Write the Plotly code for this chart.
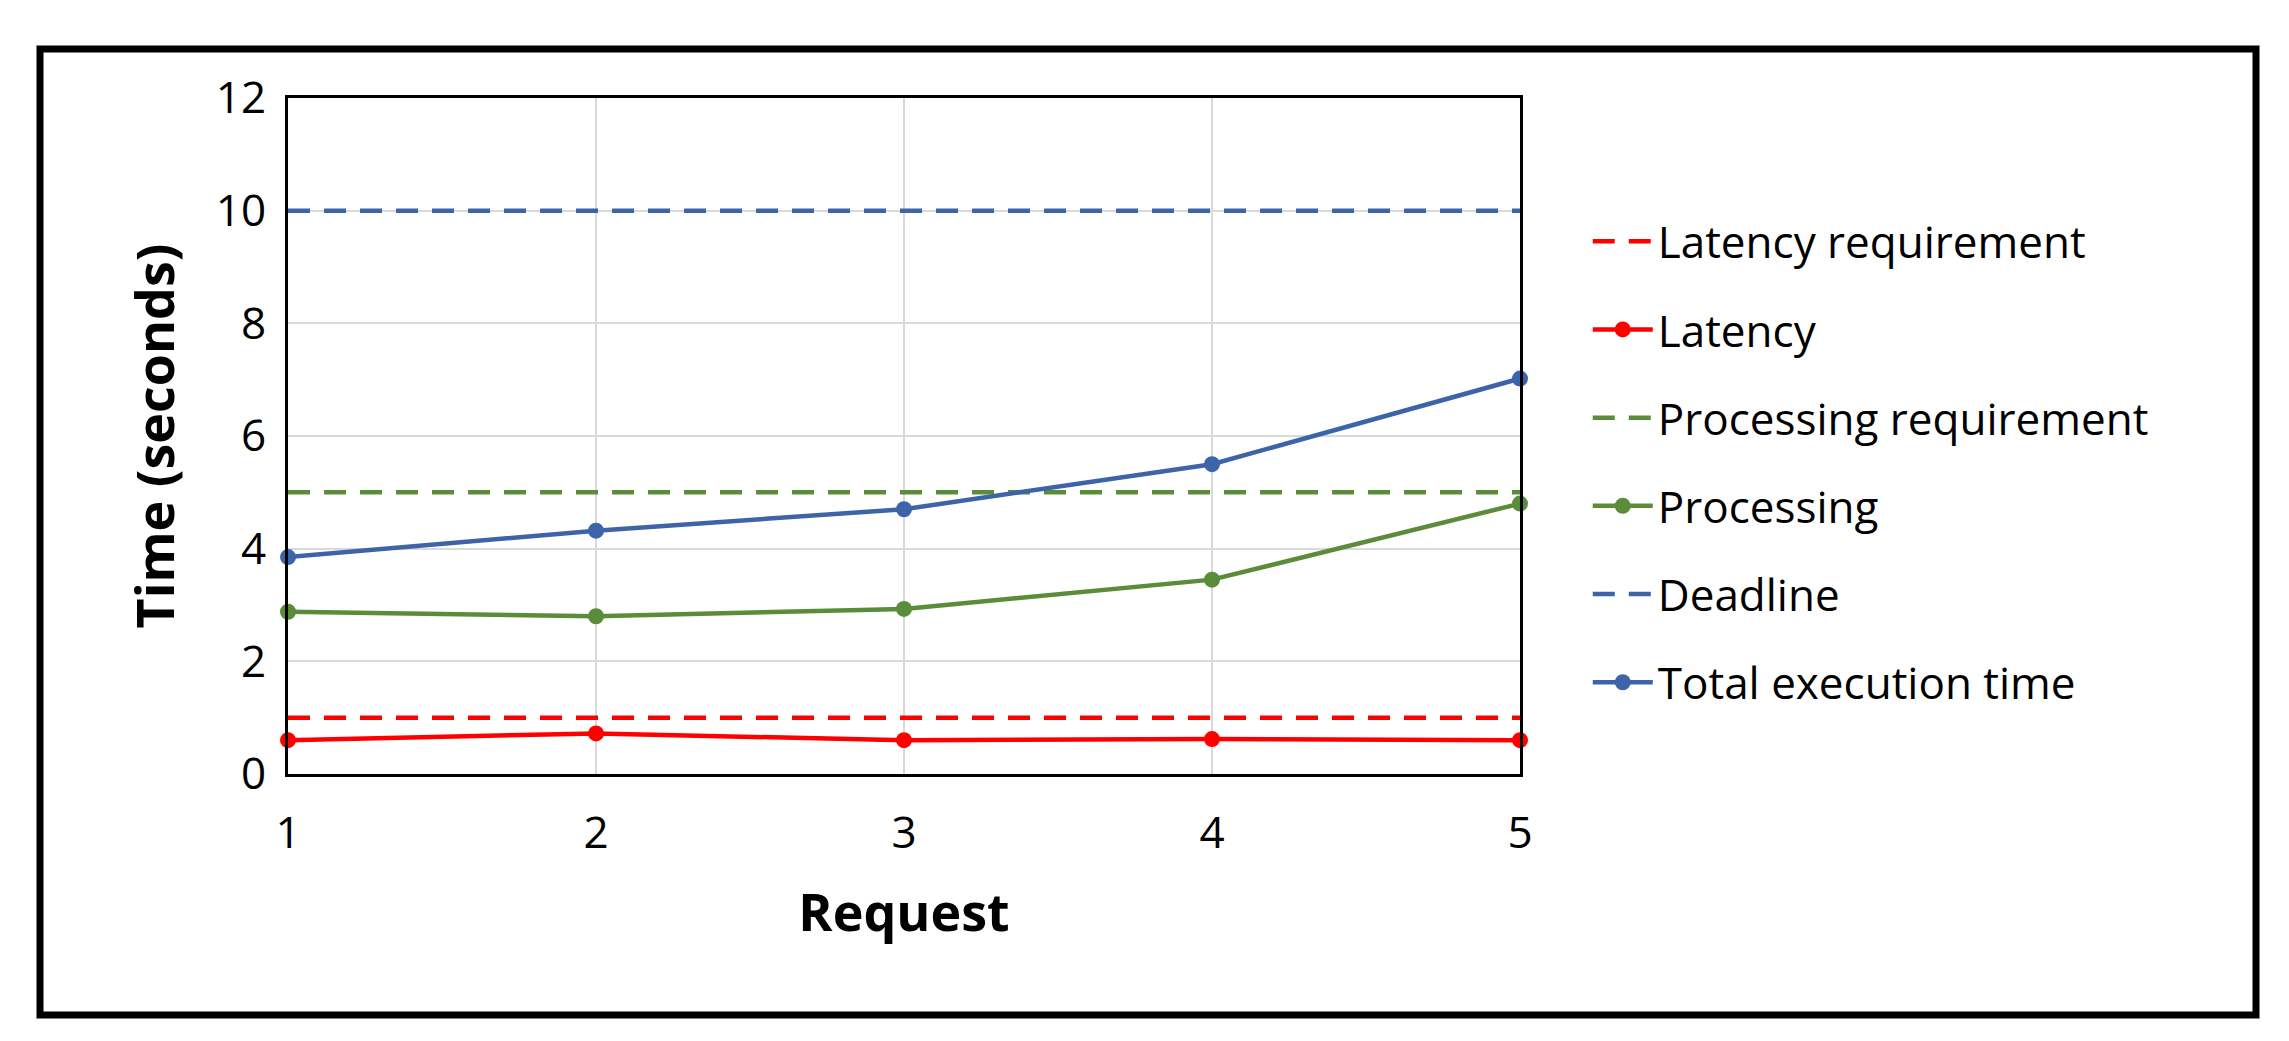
import plotly.graph_objects as go

requests = [1, 2, 3, 4, 5]
latency_req = [1, 1, 1, 1, 1]
latency = [0.6, 0.72, 0.6, 0.62, 0.6]
processing_req = [5, 5, 5, 5, 5]
processing = [2.88, 2.8, 2.93, 3.45, 4.8]
deadline = [10, 10, 10, 10, 10]
total = [3.85, 4.32, 4.7, 5.5, 7.02]

RED = "#FF0000"
GREEN = "#5B8C3A"
BLUE = "#3D63A8"
dash = "22px,14px"

fig = go.Figure()
series = [
    ("Latency requirement", latency_req, RED, True),
    ("Latency", latency, RED, False),
    ("Processing requirement", processing_req, GREEN, True),
    ("Processing", processing, GREEN, False),
    ("Deadline", deadline, BLUE, True),
    ("Total execution time", total, BLUE, False),
]
for i, (name, y, c, d) in enumerate(series):
    fig.add_trace(go.Scatter(
        x=requests, y=y, name=name, legendgroup=f"g{i}",
        mode="lines" if d else "lines+markers",
        line=dict(color=c, width=4.5, dash=dash if d else "solid"),
        marker=dict(size=16, color=c),
        cliponaxis=False,
    ))

fig.update_layout(
    width=2289, height=1041,
    paper_bgcolor="white", plot_bgcolor="white",
    margin=dict(l=280, r=777, t=90, b=275),
    font=dict(family="Open Sans, Liberation Sans", color="black"),
    legend=dict(x=1.055, y=0.84, xanchor="left", yanchor="top",
                font=dict(size=44), tracegroupgap=28, itemwidth=60),
    xaxis=dict(range=[1, 5], tickvals=requests, tickfont=dict(size=44),
               showgrid=True, gridcolor="#D9D9D9", gridwidth=2,
               showline=True, linecolor="black", linewidth=3, mirror=True,
               ticks="", zeroline=False, ticklabelstandoff=18,
               title=dict(text="<b>Request</b>", font=dict(size=52), standoff=35)),
    yaxis=dict(range=[0, 12], dtick=2, tickfont=dict(size=44),
               showgrid=True, gridcolor="#D9D9D9", gridwidth=2,
               showline=True, linecolor="black", linewidth=3, mirror=True,
               ticks="", zeroline=False, ticklabelstandoff=10,
               title=dict(text="<b>Time (seconds)</b>", font=dict(size=52), standoff=25)),
    shapes=[dict(type="rect", xref="paper", yref="paper",
                 x0=-248/1232, x1=(2248-280)/1232,
                 y0=(766-1007)/676, y1=(766-41)/676,
                 line=dict(color="black", width=7))],
)
fig.write_html("out.html")
